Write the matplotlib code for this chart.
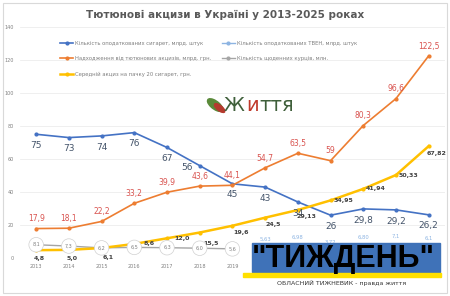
import matplotlib.pyplot as plt
from matplotlib.patches import Rectangle, Ellipse

years = list(range(2013, 2026))
cigarettes = [75, 73, 74, 76, 67, 56, 45, 43, 34, 26, 29.8, 29.2, 26.2]
revenue = [17.9, 18.1, 22.2, 33.2, 39.9, 43.6, 44.1, 54.7, 63.5, 59, 80.3, 96.6, 122.5]
excise = [4.8, 5.0, 6.1, 8.6, 12.0, 15.5, 19.6, 24.5, 29.13, 34.95, 41.94, 50.33, 67.82]
smoker_years = list(range(2013, 2020))
smokers = [8.1, 7.3, 6.2, 6.5, 6.3, 6.0, 5.6]
heets_years = list(range(2020, 2026))
heets = [5.63, 6.98, 3.72, 6.80, 7.1, 6.1]
heets_labels = ['5,63', '6,98', '3,72', '6,80', '7,1', '6,1']

c_blue = '#4472C4'
c_orange = '#ED7D31'
c_yellow = '#FFC000'
c_grey = '#A5A5A5'
c_lblue = '#8DB4E2'


def fmt(v, nd=None):
    if nd is None:
        s = f"{v:g}"
    else:
        s = f"{v:.{nd}f}"
    return s.replace('.', ',')


fig = plt.figure(figsize=(4.5, 2.96), dpi=100)
fig.patches.append(Rectangle((0.007, 0.01), 0.986, 0.98, transform=fig.transFigure,
                             fill=False, edgecolor='#D9D9D9', linewidth=0.8))
ax = fig.add_axes([0.044, 0.128, 0.945, 0.781])

ax.set_xlim(2012.5, 2025.5)
ax.set_ylim(0, 140)
ax.set_yticks(range(0, 141, 20))
ax.set_xticks(years)
ax.tick_params(labelsize=3.5, colors='#808080', length=0, pad=4)
ax.grid(axis='y', color='#EDEDED', linewidth=0.6)
ax.set_axisbelow(True)
for s in ax.spines.values():
    s.set_visible(False)

l1, = ax.plot(years, cigarettes, color=c_blue, lw=1.2, marker='o', ms=2,
              label='Кількість оподаткованих сигарет, млрд. штук')
l2, = ax.plot(heets_years, heets, color=c_lblue, lw=1.0, marker='o', ms=2,
              label='Кількість оподаткованих ТВЕН, млрд. штук')
l3, = ax.plot(years, revenue, color=c_orange, lw=1.2, marker='o', ms=2,
              label='Надходження від тютюнових акцизів, млрд. грн.')
l4, = ax.plot(smoker_years, smokers, color=c_grey, lw=1.0, marker='o', ms=2,
              label='Кількість щоденних курців, млн.')
l5, = ax.plot(years, excise, color=c_yellow, lw=1.8, marker='o', ms=2,
              label='Середній акциз на пачку 20 сигарет, грн.')

# підписи значень
for x, v in zip(years, cigarettes):
    off = (-9, -1) if x == 2018 else (0, -8)
    ax.annotate(fmt(v), (x, v), xytext=off, textcoords='offset points',
                ha='center', va='center', fontsize=6.5, color='#44546A')
for x, v in zip(years, revenue):
    ax.annotate(fmt(v), (x, v), xytext=(0, 7), textcoords='offset points',
                ha='center', va='center', fontsize=5.5, color='#D9534F')
for x, v in zip(years, excise):
    nd = 1 if abs(v * 10 - round(v * 10)) < 1e-6 else 2
    if x < 2015:
        off = (2, -6)
    elif x == 2015:
        off = (5, -7)
    elif x < 2018:
        off = (11, 0)
    elif x == 2018:
        off = (8, -8)
    elif x in (2022, 2023, 2024):
        off = (9, 0)
    else:
        off = (6, -5)
    ax.annotate(fmt(v, nd), (x, v), xytext=off, textcoords='offset points',
                ha='center', va='center', fontsize=4.5, color='#404040',
                fontweight='bold')
for x, v in zip(smoker_years, smokers):
    ax.annotate(fmt(v, 1), (x, v), ha='center', va='center', fontsize=3.5,
                color='#7F7F7F',
                bbox=dict(boxstyle='circle,pad=0.7', fc='white', ec='#D0D0D0', lw=0.5))
for x, v, t in zip(heets_years, heets, heets_labels):
    ax.annotate(t, (x, v), xytext=(0, 7), textcoords='offset points',
                ha='center', va='center', fontsize=3.8, color='#8DB4E2')

fig.text(0.5, 0.948, 'Тютюнові акцизи в Україні у 2013-2025 роках',
         ha='center', va='center', fontsize=7.5, fontweight='bold', color='#595959')

ax.legend(handles=[l1, l3, l5, l2, l4], loc='upper left', bbox_to_anchor=(0.09, 0.95),
          ncol=2, frameon=False, fontsize=3.8, labelcolor='#7F7F7F', borderaxespad=0,
          handlelength=2.5, columnspacing=2.0, labelspacing=2.0, handletextpad=0.3)

# логотип "Життя"
fig.patches.append(Ellipse((0.478, 0.645), 0.022, 0.05, angle=35,
                           transform=fig.transFigure, color='#5A8A3A'))
fig.patches.append(Ellipse((0.488, 0.635), 0.014, 0.035, angle=35,
                           transform=fig.transFigure, color='#B53A2E'))
fig.text(0.497, 0.645, 'Ж', fontsize=14, color='#3F5F3A', va='center')
fig.text(0.548, 0.642, 'и', fontsize=14, color='#C0392B', va='center')
fig.text(0.577, 0.642, 'ття', fontsize=14, color='#3F5F3A', va='center')

# водяний знак "ТИЖДЕНЬ"
fig.patches.append(Rectangle((0.56, 0.081), 0.418, 0.098, transform=fig.transFigure,
                             color='#3F72B8', zorder=5))
fig.patches.append(Rectangle((0.54, 0.064), 0.44, 0.014, transform=fig.transFigure,
                             color='#FFE000', zorder=5))
fig.text(0.762, 0.125, '"ТИЖДЕНЬ"', ha='center', va='center', fontsize=22,
         fontweight='bold', color='black', zorder=6, family='Liberation Sans')
fig.text(0.76, 0.044, 'ОБЛАСНИЙ ТИЖНЕВИК - правда життя', ha='center', va='center',
         fontsize=4.5, color='#333333', zorder=6)

fig.savefig('out.png', dpi=100)
